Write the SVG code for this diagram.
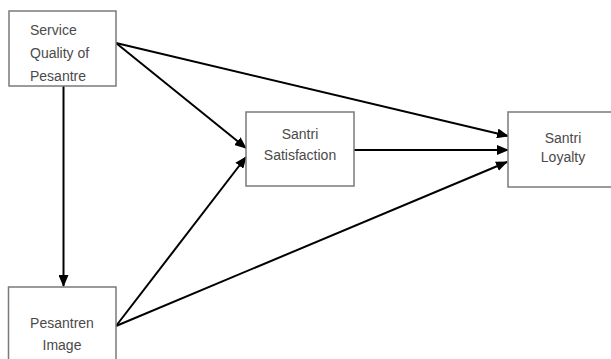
<svg xmlns="http://www.w3.org/2000/svg" width="611" height="359" viewBox="0 0 611 359">
<style>
.box{fill:#fff;stroke:#7a7a7a;stroke-width:1.5}
.t{font-family:"Liberation Sans",Arial,sans-serif;font-size:14px;fill:#4a4a4a}
.c{text-anchor:middle}
.e{stroke:#000;stroke-width:2;fill:none;marker-end:url(#ah)}
</style>
<defs>
<marker id="ah" markerUnits="userSpaceOnUse" markerWidth="12" markerHeight="10" refX="11" refY="5" orient="auto">
<path d="M0,0 L12,5 L0,10 z" fill="#000"/>
</marker>
</defs>
<rect width="611" height="359" fill="#fff"/>
<g id="connectors">
<line class="e" x1="63.5" y1="86" x2="63.5" y2="286"/>
<line class="e" x1="116" y1="43" x2="246" y2="148"/>
<line class="e" x1="116" y1="43" x2="508" y2="136"/>
<line class="e" x1="354" y1="150" x2="508" y2="150"/>
<line class="e" x1="116" y1="326" x2="246" y2="157"/>
<line class="e" x1="116" y1="326" x2="507" y2="162"/>
</g>
<g id="service-quality">
<rect class="box" x="9" y="11" width="107" height="75"/>
<text class="t" x="30" y="35">Service</text>
<text class="t" x="30" y="58">Quality of</text>
<text class="t" x="30" y="81">Pesantre</text>
</g>
<g id="pesantren-image">
<rect class="box" x="8.5" y="287" width="107.5" height="80"/>
<text class="t c" x="62" y="328">Pesantren</text>
<text class="t c" x="62" y="350">Image</text>
</g>
<g id="santri-satisfaction">
<rect class="box" x="246" y="112" width="108" height="74"/>
<text class="t c" x="300" y="139">Santri</text>
<text class="t c" x="300" y="160">Satisfaction</text>
</g>
<g id="santri-loyalty">
<rect class="box" x="508" y="112" width="110" height="75"/>
<text class="t c" x="563" y="143">Santri</text>
<text class="t c" x="563" y="162">Loyalty</text>
</g>
</svg>
